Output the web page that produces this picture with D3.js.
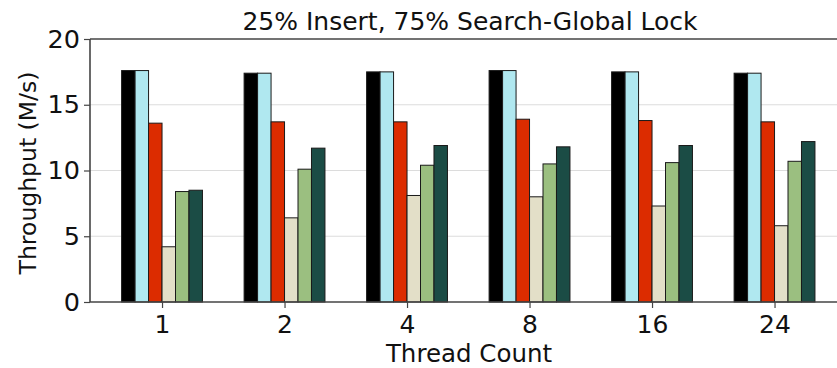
<!DOCTYPE html>
<html>
<head>
<meta charset="utf-8">
<script src="https://cdn.jsdelivr.net/npm/d3@7"></script>
<style>
  html, body { margin: 0; padding: 0; background: #fff; }
  svg { display: block; font-family: "DejaVu Sans", sans-serif; }
</style>
</head>
<body>
<svg id="chart" width="837" height="368"></svg>
<script>
// Thread counts on the x axis
const threadCounts = ["1", "2", "4", "8", "16", "24"];

// Throughput (M/s) per implementation, one array per bar series
const seriesA = [17.6, 17.4, 17.5, 17.6, 17.5, 17.4];
const seriesB = [17.6, 17.4, 17.5, 17.6, 17.5, 17.4];
const seriesC = [13.6, 13.7, 13.7, 13.9, 13.8, 13.7];
const seriesD = [4.2, 6.4, 8.1, 8.0, 7.3, 5.8];
const seriesE = [8.4, 10.1, 10.4, 10.5, 10.6, 10.7];
const seriesF = [8.5, 11.7, 11.9, 11.8, 11.9, 12.2];

const yTicks = [0, 5, 10, 15, 20];
const gridTicks = [5, 10, 15];

const series = [seriesA, seriesB, seriesC, seriesD, seriesE, seriesF];
const colors = ["#000000", "#b0e8f0", "#dc2c00", "#e3dfc8", "#9bbf80", "#1b4c45"];

const svg = d3.select("#chart");
const plotLeft = 90, plotTop = 39, plotBottom = 302;
const barW = 0.11;  // bar width in group units

// Numeric x scale: group index -> pixel
const x = d3.scaleLinear().domain([-0.588, 5.613]).range([plotLeft, plotLeft + 6.201 * 122.5]);
const y = d3.scaleLinear().domain([0, 20]).range([plotBottom, plotTop]);

// Horizontal gridlines
svg.append("g").selectAll("line").data(gridTicks).join("line")
  .attr("x1", plotLeft).attr("x2", 837)
  .attr("y1", d => y(d)).attr("y2", d => y(d))
  .attr("stroke", "#dcdcdc").attr("stroke-width", 1.2);

// Bars
const rows = [];
series.forEach((vals, si) => {
  vals.forEach((v, gi) => rows.push({ gi, si, v }));
});
svg.append("g").selectAll("rect").data(rows).join("rect")
  .attr("x", d => x(d.gi + (d.si - 3) * barW))
  .attr("width", d => x(d.gi + (d.si - 2) * barW) - x(d.gi + (d.si - 3) * barW))
  .attr("y", d => y(d.v))
  .attr("height", d => y(0) - y(d.v))
  .attr("fill", d => colors[d.si])
  .attr("stroke", "#1a1a1a")
  .attr("stroke-width", 1);

// Y axis
const yAxis = svg.append("g")
  .attr("transform", `translate(${plotLeft},0)`)
  .call(d3.axisLeft(y).tickValues(yTicks).tickFormat(d3.format("d")).tickSize(6).tickPadding(4));
yAxis.select(".domain").remove();
yAxis.selectAll(".tick line").attr("stroke", "#444").attr("stroke-width", 1.2);
yAxis.selectAll(".tick text").attr("font-size", 25.5).attr("fill", "#111")
  .attr("font-family", "DejaVu Sans");

// X axis
const xAxis = svg.append("g")
  .attr("transform", `translate(0,${plotBottom})`)
  .call(d3.axisBottom(x).tickValues(d3.range(threadCounts.length))
    .tickFormat(i => threadCounts[i]).tickSize(6).tickPadding(7));
xAxis.select(".domain").remove();
xAxis.selectAll(".tick line").attr("stroke", "#444").attr("stroke-width", 1.2);
xAxis.selectAll(".tick text").attr("font-size", 25).attr("fill", "#111")
  .attr("font-family", "DejaVu Sans");

// Spines: left, top, bottom
const spine = svg.append("g").attr("stroke", "#444").attr("stroke-width", 1.6);
spine.append("line").attr("x1", plotLeft).attr("x2", plotLeft).attr("y1", plotTop).attr("y2", plotBottom);
spine.append("line").attr("x1", plotLeft).attr("x2", 837).attr("y1", plotTop).attr("y2", plotTop);
spine.append("line").attr("x1", plotLeft).attr("x2", 837).attr("y1", plotBottom).attr("y2", plotBottom);

// Title and axis labels
svg.append("text")
  .attr("x", 470).attr("y", 30)
  .attr("text-anchor", "middle")
  .attr("font-size", 25).attr("fill", "#111")
  .text("25% Insert, 75% Search-Global Lock");

svg.append("text")
  .attr("x", 469).attr("y", 362)
  .attr("text-anchor", "middle")
  .attr("font-size", 24.5).attr("fill", "#111")
  .text("Thread Count");

svg.append("text")
  .attr("transform", `translate(36,173) rotate(-90)`)
  .attr("text-anchor", "middle")
  .attr("font-size", 23.5).attr("fill", "#111")
  .text("Throughput (M/s)");
</script>
</body>
</html>
